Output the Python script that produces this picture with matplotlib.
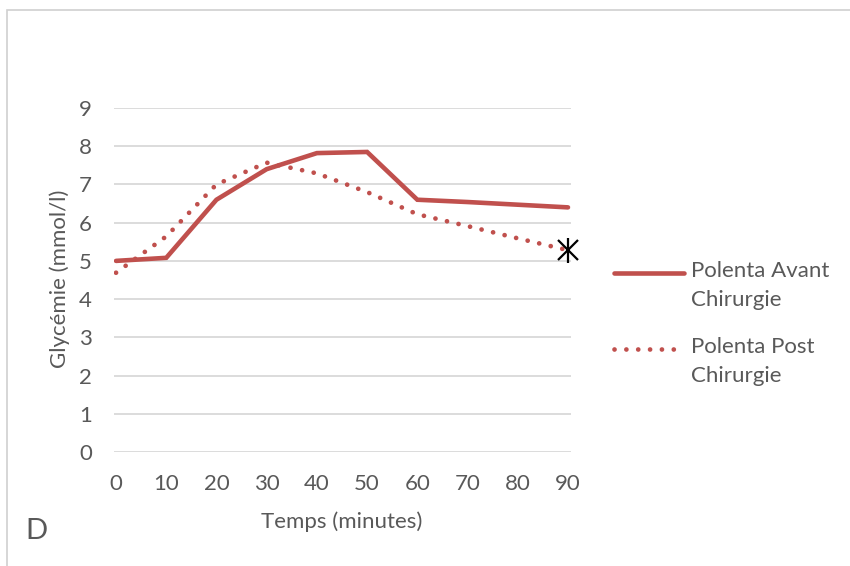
import matplotlib
matplotlib.use("Agg")
import matplotlib.pyplot as plt
from matplotlib.lines import Line2D
from matplotlib.patches import Rectangle

# Glycaemia over time after a polenta meal, before and after surgery
minutes = [0, 10, 20, 30, 40, 50, 60, 70, 80, 90]
avant = [5.00, 5.08, 6.60, 7.40, 7.82, 7.85, 6.60, 6.54, 6.47, 6.40]
post = [4.69, 5.64, 7.00, 7.57, 7.29, 6.80, 6.22, 5.91, 5.59, 5.28]
y_ticks = [0, 1, 2, 3, 4, 5, 6, 7, 8, 9]

label_avant = "Polenta Avant\nChirurgie"
label_post = "Polenta Post\nChirurgie"

RED = "#c0504d"
GRAY_TXT = "#595959"
GRID = "#d9d9d9"
FS = 16

plt.rcParams["font.family"] = ["Lato", "DejaVu Sans"]

W, H = 850, 566
fig = plt.figure(figsize=(W / 100, H / 100), dpi=100)


def fx(px):
    return px / W


def fy(py):
    return 1 - py / H


# outer chart frame (left and top edges visible)
fig.patches.append(Rectangle((fx(7), -0.1), 1.2, fy(10) + 0.1,
                             transform=fig.transFigure, fill=False,
                             edgecolor="#d0d0d0", linewidth=1.2))

ax = fig.add_axes([fx(114), fy(452), (571 - 114) / W, (452 - 108) / H])
ax.set_xlim(-0.4, 90.6)
ax.set_ylim(0, 9)

for v in y_ticks:
    ax.axhline(v, color=GRID, linewidth=1.3, zorder=0)

solid_style = dict(color=RED, linewidth=3.3, solid_capstyle="round",
                   solid_joinstyle="miter")
dot_style = dict(color=RED, linewidth=3.4, linestyle=(0, (0.01, 2.5)),
                 dash_capstyle="round")

ax.plot(minutes, avant, zorder=3, **solid_style)
ax.plot(minutes, post, zorder=3, **dot_style)

# end-point marker on the post-surgery series
ax.plot(minutes[-1], post[-1], marker="x", markersize=14, color="black",
        markeredgewidth=1.6, zorder=5, clip_on=False)
ax.plot(minutes[-1], post[-1], marker="|", markersize=18, color="black",
        markeredgewidth=1.6, zorder=5, clip_on=False)

for s in ax.spines.values():
    s.set_visible(False)
ax.set_xticks(minutes)
ax.set_xticklabels([str(m) for m in minutes])
ax.set_yticks(y_ticks)
ax.tick_params(axis="both", length=0, labelsize=FS, labelcolor=GRAY_TXT)
ax.tick_params(axis="x", pad=16)
ax.tick_params(axis="y", pad=16)

ax.set_xlabel("Temps (minutes)", fontsize=FS, color=GRAY_TXT)
ax.set_ylabel("Glycémie (mmol/l)", fontsize=FS, color=GRAY_TXT)
ax.xaxis.set_label_coords((342 - 114) / 457, (452 - 522) / 344)
ax.xaxis.label.set_va("center")
ax.yaxis.set_label_coords((60 - 114) / 457, (452 - 279) / 344)
ax.yaxis.label.set_va("center")
ax.yaxis.label.set_ha("center")

fig.text(fx(25), fy(531), "D", fontsize=21, color=GRAY_TXT,
         ha="left", va="center")

# legend: key aligned with the first line of each two-line entry
for key_y, style, text in [(273, solid_style, label_avant),
                           (349, dot_style, label_post)]:
    fig.add_artist(Line2D([fx(614), fx(684)], [fy(key_y), fy(key_y)],
                          transform=fig.transFigure, **style))
    fig.text(fx(691), fy(key_y - 12), text, fontsize=FS, color=GRAY_TXT,
             ha="left", va="top", linespacing=1.55)

fig.savefig("out.png", dpi=100)
